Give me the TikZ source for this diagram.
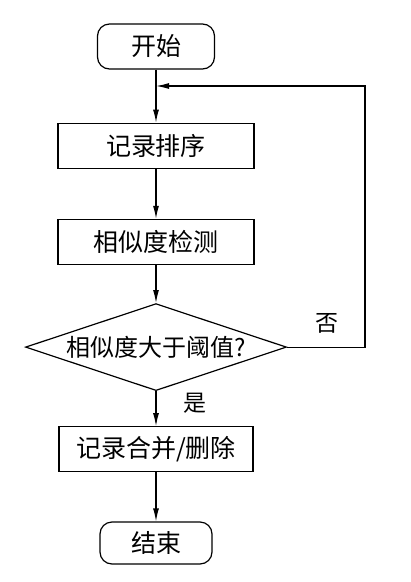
\documentclass[tikz,border=0pt]{standalone}
\usepackage{fontspec}
\newfontfamily\cjk{Noto Sans CJK SC}
\usetikzlibrary{positioning}
\usetikzlibrary{shapes.geometric, arrows.meta}
\tikzset{term node/.style={rectangle,rounded corners=12pt,draw,line width=1.2pt,minimum width=117pt,minimum height=45pt,inner sep=2pt,font=\cjk\fontsize{25}{29}\selectfont},
         proc node/.style={rectangle,draw,line width=1.2pt,minimum width=196pt,minimum height=45pt,inner sep=2pt,font=\cjk\fontsize{25}{29}\selectfont},
         dec node/.style={diamond,aspect=3,draw,line width=1.2pt,minimum width=261pt,minimum height=87pt,inner sep=0pt,font=\cjk\fontsize{24}{28}\selectfont},
         flow/.style={draw,line width=1.2pt,-{Latex[length=13pt,width=6pt]}},
         side text/.style={font=\cjk\fontsize{23}{27}\selectfont},
            }

\begin{document}
\begin{tikzpicture}
 \useasboundingbox (0,0) rectangle (411pt,-582pt);
 \node[term node] (start) at (156pt,-46.5pt) {开始};
 \node[proc node] (sort)[below=53pt of start] {记录排序};
 \node[proc node] (check)[below=50pt of sort] {相似度检测};
 \node[dec node] (thr)[below=38pt of check] {相似度大于阈值?};
 \node[proc node, minimum width=194pt] (merge)[below=35pt of thr] {记录合并/删除};
 \node[term node, minimum width=112pt, minimum height=42pt] (stop)[below=49pt of merge] {结束};

 \coordinate (join) at (156pt,-86pt);
 \coordinate (back) at (365pt,-86pt);

    \path[flow]
        (start)  edge (sort);
    \path[flow]
        (sort)  edge (check);
    \path[flow]
        (check)  edge (thr);
    \path[flow]
        (thr)  edge (merge);
    \path[flow]
        (merge)  edge (stop);
    \path[flow]
        (thr.east) -| (back) -- (join);

 \node[side text] (no) at (327pt,-323pt) {否};
 \node[side text] (yes) at (195pt,-403pt) {是};
\end{tikzpicture}
\end{document}
